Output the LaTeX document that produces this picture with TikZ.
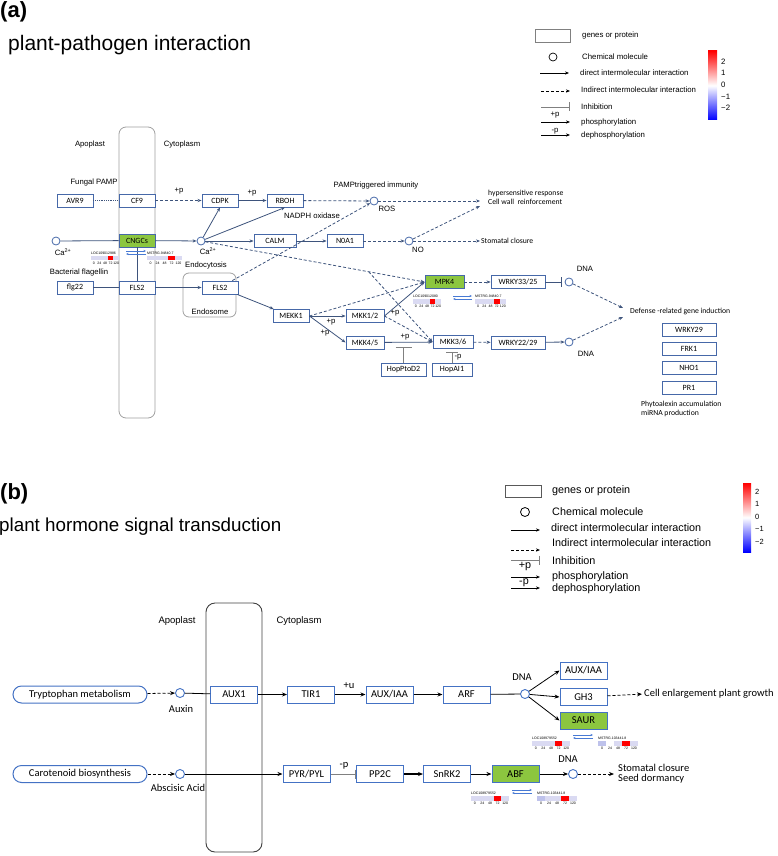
\documentclass[tikz,border=0pt]{standalone}
\usepackage{fontspec}
\setmainfont{Liberation Sans}
\newfontfamily\calib{Carlito}
\usetikzlibrary{arrows.meta,calc}

\definecolor{boxblue}{RGB}{70,104,168}
\definecolor{boxblueb}{RGB}{68,114,196}
\definecolor{linkblue}{RGB}{62,84,124}
\definecolor{hitgreen}{RGB}{140,198,63}
\definecolor{heatcell}{RGB}{218,218,242}
\definecolor{heatdark}{RGB}{190,194,235}
\definecolor{pairblue}{RGB}{72,122,212}
\definecolor{wallgray}{RGB}{160,160,160}

% one expression strip: x, y, cell width, node name, label, cell colours
\newcommand{\heatrow}[6]{%
  \node[tinytxt,anchor=south west] (#4) at (#1,{#2-0.8}) {#5};
  \foreach \c [count=\i from 0] in {#6}
    \fill[\c] ({#1+\i*#3},#2) rectangle ++(#3,4.6);
  \foreach \k [count=\i from 0] in {0,24,48,72,120}
    \node[tinytxt] (#4-\i) at ({#1+(\i+0.5)*#3},{#2+7.6}) {\k};
}
% the two small blue arrows between a pair of strips
\newcommand{\pairarrows}[3]{%
  \draw[pairblue,line width=0.6pt,-{Stealth[length=2.6pt,width=2.2pt]}] (#1,#3) -- (#2,#3);
  \draw[pairblue,line width=0.6pt,-{Stealth[length=2.6pt,width=2.2pt]}] (#2,{#3+3}) -- (#1,{#3+3});
}

\begin{document}
\begin{tikzpicture}[x=1pt,y=-1pt,>={Stealth[length=4pt,width=3.2pt]},
    gene/.style={draw=boxblue,line width=0.9pt,fill=white,minimum width=36pt,minimum height=13pt,inner sep=0pt,font=\calib\fontsize{8}{9}\selectfont},
    hit/.style={gene,fill=hitgreen},
    mol/.style={circle,draw=boxblue,line width=0.8pt,fill=white,minimum size=8pt,inner sep=0pt},
    lbl/.style={inner sep=0pt,font=\fontsize{7.7}{9}\selectfont},
    note/.style={inner sep=0pt,anchor=west,align=left,font=\calib\fontsize{7.7}{9}\selectfont},
    link/.style={draw=linkblue,line width=0.8pt},
    act/.style={link,->},
    ind/.style={link,->,dash pattern=on 3pt off 2pt},
    inh/.style={link,-{Bar[width=10pt]}},
    wall/.style={draw=wallgray,line width=0.8pt,rounded corners=7pt},
    lgd/.style={inner sep=0pt,anchor=west,font=\fontsize{7.8}{9}\selectfont},
    tinytxt/.style={inner sep=0pt,font=\fontsize{3.5}{4}\selectfont},
    title/.style={inner sep=0pt,anchor=west,font=\fontsize{21}{24}\selectfont},
    tag/.style={inner sep=0pt,anchor=north west,font=\bfseries\fontsize{22}{24}\selectfont},
    geneb/.style={gene,draw=boxblueb,line width=1pt,minimum width=47pt,minimum height=17pt,font=\calib\fontsize{10.5}{12}\selectfont},
    hitb/.style={geneb,fill=hitgreen},
    pill/.style={geneb,rounded corners=8.5pt,minimum width=134pt},
    molb/.style={mol,draw=boxblueb,line width=0.9pt,minimum size=9pt},
    lblb/.style={inner sep=0pt,font=\fontsize{9.5}{11}\selectfont},
    noteb/.style={inner sep=0pt,anchor=west,align=left,font=\calib\fontsize{10.5}{10}\selectfont},
    linkb/.style={draw=black,line width=0.8pt},
    actb/.style={linkb,-{Stealth[length=5pt,width=4pt]}},
    indb/.style={actb,dash pattern=on 3pt off 2pt},
    lgdb/.style={inner sep=0pt,anchor=west,font=\fontsize{10.8}{12}\selectfont}]
\useasboundingbox (0,0) rectangle (778,856);

% ---------------- (a) plant-pathogen interaction
\node[tag] (taga) at (0,1) {(a)};
\node[title] (titlea) at (8,45) {plant-pathogen interaction};

% legend
\draw[draw=gray,line width=0.8pt] (535,29) rectangle (570,42);
\node[circle,draw,line width=0.7pt,minimum size=8pt,inner sep=0pt] (lgamol) at (553,57) {};
\node[lgd] (lga1) at (582,35) {genes or protein};
\node[lgd] (lga2) at (582,57) {Chemical molecule};
\node[lgd] (lga3) at (580,73) {direct intermolecular interaction};
\node[lgd] (lga4) at (581,90) {Indirect intermolecular interaction};
\node[lgd] (lga5) at (581,107) {Inhibition};
\node[lgd] (lga6) at (581,122) {phosphorylation};
\node[lgd] (lga7) at (581,135) {dephosphorylation};
\node[lgd,anchor=center] (lgap) at (555,115) {+p};
\node[lgd,anchor=center] (lgam) at (555,131) {-p};
\draw[line width=0.8pt,->] ($(lga3.west)+(-40,0)$) -- ($(lga3.west)+(-11,0)$);
\draw[line width=0.8pt,->,dash pattern=on 3pt off 2pt] ($(lga4.west)+(-40,1)$) -- ($(lga4.west)+(-11,1)$);
\draw[gray,line width=0.8pt,-{Bar[width=9pt]}] ($(lga5.west)+(-40,0)$) -- ($(lga5.west)+(-11,0)$);
\draw[line width=0.8pt,->] ($(lga6.west)+(-40,0)$) -- ($(lga6.west)+(-11,0)$);
\draw[line width=0.8pt,->] ($(lga7.west)+(-40,0)$) -- ($(lga7.west)+(-11,0)$);

% colour scale
\shade[top color=red,bottom color=blue,middle color=white] (708,51) rectangle (717,120);
\foreach \v/\y in {2/62,1/73,0/85,{−1}/97,{−2}/108}
  \node[lgd] (scalea\y) at (721,\y) {\v};

% cell wall and endosome
\draw[wall] (119,127) rectangle (155,418);
\draw[wall,rounded corners=6pt] (183,273) rectangle (236,317);

% genes, proteins, molecules
\node[gene] (avr9) at (75,200.5) {AVR9};
\node[gene] (cf9) at (137,200.5) {CF9};
\node[gene] (cdpk) at (220,200.5) {CDPK};
\node[gene] (rboh) at (285,200.5) {RBOH};
\node[mol] (ros) at (374,201) {};
\node[hit] (cngc) at (137,240.5) {CNGCs};
\node[mol] (cain) at (56,241) {};
\node[mol] (ca) at (201,241) {};
\node[gene,minimum width=42pt] (calm) at (275,241) {CALM};
\node[gene] (noa1) at (345,241) {N0A1};
\node[mol] (no) at (409,241) {};
\node[gene] (flg22) at (75,287.5) {flg22};
\node[gene] (fls2) at (137,287.5) {FLS2};
\node[gene] (fls2e) at (220,287.5) {FLS2};
\node[gene] (mekk1) at (291,316) {MEKK1};
\node[gene,minimum width=38pt] (mkk12) at (365,316) {MKK1/2};
\node[gene,minimum width=38pt] (mkk45) at (365,342.5) {MKK4/5};
\node[gene,minimum width=40pt] (mkk36) at (453,342) {MKK3/6};
\node[gene,minimum width=45pt] (hopptod2) at (403.5,370) {HopPtoD2};
\node[gene,minimum width=40pt] (hopai1) at (452,370) {HopAI1};
\node[hit,minimum width=39pt] (mpk4) at (444.5,282) {MPK4};
\node[gene,minimum width=54pt] (wrky3325) at (518,282) {WRKY33/25};
\node[gene,minimum width=54pt] (wrky2229) at (518,342.5) {WRKY22/29};
\node[mol] (dnaa) at (569,282) {};
\node[mol] (dnab) at (569,342) {};
\foreach \g/\y in {WRKY29/329.5,FRK1/348.5,NHO1/368,PR1/387.5}
  \node[gene,minimum width=54pt] (\g) at (689,\y) {\g};

% labels
\node[lbl] (apo) at (90,145) {Apoplast};
\node[lbl] (cyto) at (182,145) {Cytoplasm};
\node[lbl] (fpamp) at (94,183) {Fungal PAMP};
\node[lbl] (bflag) at (79,273) {Bacterial flagellin};
\node[lbl] (endo) at (206,266) {Endocytosis};
\node[lbl] (endos) at (210,312) {Endosome};
\node[lbl] (pti) at (376,186) {PAMPtriggered immunity};
\node[lbl] (roslab) at (387,209) {ROS};
\node[lbl] (nadph) at (312,216) {NADPH oxidase};
\node[lbl] (nolab) at (418,250) {NO};
\node[lbl] (cainlab) at (63,252) {Ca\textsuperscript{2+}};
\node[lbl] (calab) at (208,251) {Ca\textsuperscript{2+}};
\node[lbl] (dnalaba) at (585,269) {DNA};
\node[lbl] (dnalabb) at (586,354) {DNA};
\node[note] (hyper) at (488,197.5) {hypersensitive response\\Cell wall\ \ reinforcement};
\node[note] (stoma) at (481,241) {Stomatal closure};
\node[note] (defense) at (630,311) {Defense -related gene induction};
\node[note] (phyto) at (641,408.5) {Phytoalexin accumulation\\miRNA production};
\node[lbl] (pa) at (179,191) {+p};
\node[lbl] (pb) at (252,193) {+p};
\node[lbl] (pc) at (331,322) {+p};
\node[lbl] (pd) at (325,333) {+p};
\node[lbl] (pe) at (395,313) {+p};
\node[lbl] (pf) at (405,337) {+p};
\node[lbl] (pg) at (458,357) {-p};

% connections
\coordinate (hypa) at (480,201);
\coordinate (hypb) at (480,206);
\coordinate (stom) at (480,241);
\coordinate (defa) at (623,308);
\coordinate (defb) at (623,317);
\coordinate (branch) at ($(ca)!0.75!(mpk4.west)$);
\coordinate (hopbar) at (403.5,347);
\coordinate (aibar) at (452,351.5);
\draw[link,densely dotted] (avr9) -- (cf9);
\draw[ind] (cf9) -- (cdpk);
\draw[act] (cdpk) -- (rboh);
\draw[ind] (rboh) -- (ros);
\draw[ind] (ros) -- (hypa);
\draw[ind] (no) -- (hypb);
\draw[ind] (no) -- (stom);
\draw[link] (cain) -- (cngc);
\draw[act] (cngc) -- (ca);
\draw[act] (ca) -- (cdpk.south);
\draw[act] (ca) -- (rboh.south);
\draw[act] (ca) -- (calm);
\draw[act] (calm) -- (noa1);
\draw[ind] (noa1) -- (no);
\draw[ind] (ca) -- (mpk4.west);
\draw[ind] (branch) -- (mkk36.west);
\draw[link] (flg22) -- (fls2);
\draw[link] (fls2) -- (cngc);
\draw[act] (fls2) -- (fls2e);
\draw[ind] (fls2e) -- (ros);
\draw[act] (fls2e) -- (mekk1);
\draw[act] (mekk1) -- (mkk12);
\draw[act] (mekk1.east) -- (mkk45.west);
\draw[ind] (mekk1.east) -- (mpk4.west);
\draw[act] (mkk12.east) -- (mpk4.west);
\draw[ind] (mkk12.east) -- (mkk36.west);
\draw[act] (mkk45) -- (mkk36);
\draw[ind] (mpk4) -- (wrky3325);
\draw[ind] (mkk36) -- (wrky2229);
\draw[inh,shorten >=3pt] (wrky3325) -- (dnaa);
\draw[act] (wrky2229) -- (dnab);
\draw[ind] (dnaa) -- (defa);
\draw[ind] (dnab) -- (defb);
\draw[link,draw=gray,-{Bar[width=16pt]}] (hopptod2) -- (hopbar);
\draw[link,draw=gray,-{Bar[width=12pt]}] (hopai1) -- (aibar);

% expression strips
\heatrow{91}{255.5}{5.6}{hmcl}{LOC109012986}{heatcell,heatcell,heatcell,red,heatcell}
\heatrow{147}{255.5}{7}{hmcm}{MSTRG.94840.7}{heatcell,heatcell,heatcell,red,heatcell}
\pairarrows{126}{146}{251}
\heatrow{413}{299}{5.6}{hmml}{LOC109012080}{heatcell,heatcell,heatcell,red,heatcell}
\heatrow{475}{299}{6.2}{hmmm}{MSTRG.94840.7}{heatcell,heatcell,heatcell,red,heatcell}
\pairarrows{453}{472}{296}

% ---------------- (b) plant hormone signal transduction
\node[tag] (tagb) at (0,483) {(b)};
\node[title,font=\fontsize{18.8}{22}\selectfont] (titleb) at (-1,527) {plant hormone signal transduction};

% legend
\draw[draw=gray!70!black,line width=0.8pt] (505,485) rectangle (541,497);
\node[circle,draw,line width=0.8pt,minimum size=9pt,inner sep=0pt] (lgbmol) at (525,512) {};
\node[lgdb] (lgb1) at (552,491) {genes or protein};
\node[lgdb] (lgb2) at (552,512) {Chemical molecule};
\node[lgdb] (lgb3) at (551,528) {direct intermolecular interaction};
\node[lgdb] (lgb4) at (552,543) {Indirect intermolecular interaction};
\node[lgdb] (lgb5) at (552,561) {Inhibition};
\node[lgdb] (lgb6) at (552,577) {phosphorylation};
\node[lgdb] (lgb7) at (552,589) {dephosphorylation};
\node[lgdb,anchor=center] (lgbp) at (525,566) {+p};
\node[lgdb,anchor=center] (lgbm) at (524,583) {-p};
\draw[line width=0.8pt,->] ($(lgb3.west)+(-40,2)$) -- ($(lgb3.west)+(-11,2)$);
\draw[line width=0.8pt,->,dash pattern=on 3pt off 2pt] ($(lgb4.west)+(-41,7)$) -- ($(lgb4.west)+(-12,7)$);
\draw[gray,line width=0.8pt,-{Bar[width=9pt]}] ($(lgb5.west)+(-41,-1)$) -- ($(lgb5.west)+(-12,-1)$);
\draw[line width=0.8pt,->] ($(lgb6.west)+(-41,0)$) -- ($(lgb6.west)+(-12,0)$);
\draw[line width=0.8pt,->] ($(lgb7.west)+(-41,-1)$) -- ($(lgb7.west)+(-12,-1)$);

% colour scale
\shade[top color=red,bottom color=blue,middle color=white] (743,483) rectangle (751,552);
\foreach \v/\y in {2/492,1/504,0/517,{−1}/529,{−2}/542}
  \node[lgd,font=\fontsize{7.5}{8}\selectfont] (scaleb\y) at (755,\y) {\v};

% cell wall
\draw[draw=black!75,line width=0.9pt,rounded corners=9pt] (206,603) rectangle (262,852);

% genes, proteins, molecules
\node[pill] (tryp) at (80,694.5) {Tryptophan metabolism};
\node[pill] (carot) at (80,774) {Carotenoid biosynthesis};
\node[molb] (auxin) at (180,693) {};
\node[molb] (aba) at (180,774) {};
\node[geneb] (aux1) at (234,694.5) {AUX1};
\node[geneb] (tir1) at (311,694.5) {TIR1};
\node[geneb] (auxiaa) at (389.5,694.5) {AUX/IAA};
\node[geneb] (arf) at (466.5,694.5) {ARF};
\node[molb] (dnac) at (525,694) {};
\node[geneb] (auxiaab) at (583.5,670.5) {AUX/IAA};
\node[geneb] (gh3) at (583.5,697) {GH3};
\node[hitb] (saur) at (583.5,720.5) {SAUR};
\node[geneb] (pyr) at (306.5,774) {PYR/PYL};
\node[geneb] (pp2c) at (380,774) {PP2C};
\node[geneb] (snrk2) at (447,774) {SnRK2};
\node[hitb] (abf) at (515.5,774) {ABF};
\node[molb] (dnad) at (573,774) {};

% labels
\node[lblb] (apob) at (177,621) {Apoplast};
\node[lblb] (cytob) at (299,621) {Cytoplasm};
\node[noteb,anchor=center] (auxlab) at (181,709) {Auxin};
\node[noteb,anchor=center] (abalab) at (178,788) {Abscisic Acid};
\node[noteb,anchor=center] (ulab) at (349,686) {+u};
\node[noteb,anchor=center] (plab) at (344,766) {-p};
\node[noteb,anchor=center] (dnaclab) at (522,677) {DNA};
\node[noteb,anchor=center] (dnadlab) at (568,759) {DNA};
\node[noteb] (growth) at (644,694) {Cell enlargement plant growth};
\node[noteb] (dormancy) at (618,774) {Stomatal closure\\Seed dormancy};

% connections
\draw[indb] (tryp) -- (auxin);
\draw[linkb] (auxin) -- (aux1);
\draw[actb] (aux1) -- (tir1);
\draw[actb] (tir1) -- (auxiaa);
\draw[actb] (auxiaa) -- (arf);
\draw[linkb] (arf) -- (dnac);
\draw[actb] (dnac) -- (auxiaab.west);
\draw[actb] (dnac) -- (gh3.west);
\draw[actb] (dnac) -- (saur.west);
\draw[indb,shorten >=2pt] (gh3) -- (growth.west);
\draw[indb] (carot) -- (aba);
\draw[actb] (aba) -- (pyr);
\draw[draw=gray,line width=0.8pt,-{Bar[width=9pt]}] (pyr) -- (pp2c);
\draw[actb,line width=1.4pt] (pp2c) -- (snrk2);
\draw[actb] (snrk2) -- (abf);
\draw[actb] (abf) -- (dnad);
\draw[indb,shorten >=4pt] (dnad) -- (dormancy.west);

% expression strips
\heatrow{532}{741}{7.6}{hmsl}{LOC108979552}{heatcell,heatcell,heatcell,red,heatcell}
\heatrow{598}{741}{8}{hmsm}{MSTRG.103441.8}{heatdark,white,heatcell,red,heatcell}
\pairarrows{573}{593}{735}
\heatrow{471}{796}{7.6}{hmal}{LOC108979552}{heatcell,heatcell,heatcell,red,heatcell}
\heatrow{537}{796}{8}{hmam}{MSTRG.103441.8}{heatdark,heatcell,heatcell,red,heatcell}
\pairarrows{512}{532}{790}
\end{tikzpicture}
\end{document}
